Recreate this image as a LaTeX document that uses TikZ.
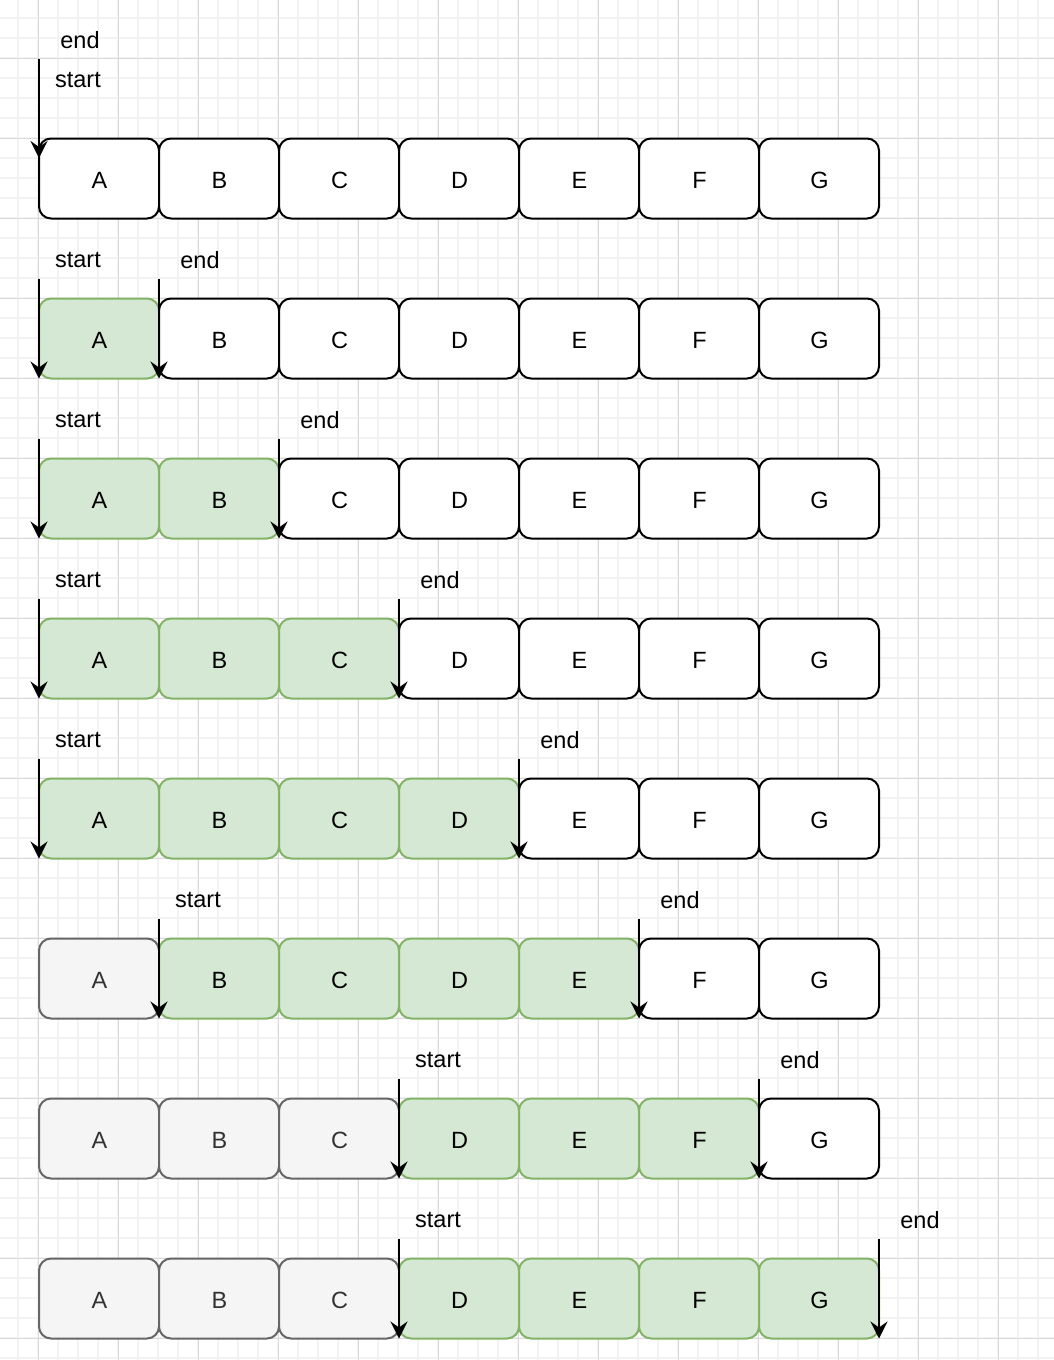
\documentclass[tikz,border=0pt]{standalone}
\usepackage{fontspec}
\setmainfont{Liberation Sans}
\usetikzlibrary{arrows.meta}
\definecolor{gfill}{HTML}{D5E8D4}
\definecolor{gdraw}{HTML}{82B366}
\definecolor{hfill}{HTML}{F5F5F5}
\definecolor{hdraw}{HTML}{666666}
\definecolor{htext}{HTML}{333333}
\definecolor{gridminor}{HTML}{F3F3F3}
\definecolor{gridmajor}{HTML}{DADADA}
\begin{document}
\begin{tikzpicture}[x=1pt,y=-1pt,
  cell/.style={draw, rounded corners=12pt, minimum width=120pt, minimum height=80pt,
    line width=2pt, inner sep=0pt, outer sep=0pt, anchor=north west,
    font=\fontsize{23.5}{28}\selectfont},
  wcell/.style={cell, draw=black, fill=white},
  gcell/.style={cell, draw=gdraw, fill=gfill},
  hcell/.style={cell, draw=hdraw, fill=hfill, text=htext},
  lbl/.style={font=\fontsize{23.5}{28}\selectfont, inner sep=0pt},
  ptr/.style={line width=2pt, -{Stealth[length=17pt,width=17pt,inset=6pt]}},
  minorline/.style={draw=gridminor, line width=1.5pt},
  majorline/.style={draw=gridmajor, line width=1pt}
]
\useasboundingbox (0,0) rectangle (1054,1360);
\fill[white] (0,0) rectangle (1054,1360);
% grid
\foreach \i in {0,...,52} {\draw[minorline] (18+20*\i,0) -- (18+20*\i,1360);}
\foreach \i in {0,...,67} {\draw[minorline] (0,18+20*\i) -- (1054,18+20*\i);}
\foreach \i in {0,...,12} {\draw[majorline] (38+80*\i,0) -- (38+80*\i,1360);}
\foreach \i in {0,...,16} {\draw[majorline] (0,58+80*\i) -- (1054,58+80*\i);}
% cells
\foreach \r/\sty in {
  0/{wcell,wcell,wcell,wcell,wcell,wcell,wcell},
  1/{gcell,wcell,wcell,wcell,wcell,wcell,wcell},
  2/{gcell,gcell,wcell,wcell,wcell,wcell,wcell},
  3/{gcell,gcell,gcell,wcell,wcell,wcell,wcell},
  4/{gcell,gcell,gcell,gcell,wcell,wcell,wcell},
  5/{hcell,gcell,gcell,gcell,gcell,wcell,wcell},
  6/{hcell,hcell,hcell,gcell,gcell,gcell,wcell},
  7/{hcell,hcell,hcell,gcell,gcell,gcell,gcell}} {
  \foreach \t [count=\c from 0] in \sty {
    \node[\t] (r\r c\c) at (39+120*\c, 138.5+160*\r)
      {\raisebox{-1.8pt}[\height][0pt]{\hspace{1pt}\ifcase\c A\or B\or C\or D\or E\or F\or G\fi}};
  }
}
% first row pointers
\coordinate (p0a) at (39,59);
\coordinate (p0b) at (39,158);
\draw[ptr] (p0a) -- (p0b);
\node[lbl] (end0) at (80,40) {end};
\node[lbl] (start0) at (78,80.5) {start};
% other rows
\foreach \r/\s/\e in {1/0/1, 2/0/2, 3/0/3, 4/0/4, 5/1/5, 6/3/6, 7/3/7} {
  \coordinate (sa\r) at (39+120*\s, 118.5+160*\r);
  \coordinate (sb\r) at (39+120*\s, 218.5+160*\r);
  \coordinate (ea\r) at (39+120*\e, 118.5+160*\r);
  \coordinate (eb\r) at (39+120*\e, 218.5+160*\r);
  \draw[ptr] (sa\r) -- (sb\r);
  \draw[ptr] (ea\r) -- (eb\r);
  \node[lbl] (start\r) at (78+120*\s, 100.5+160*\r) {start};
  \node[lbl] (end\r) at (80+120*\e, 100+160*\r) {end};
}
\end{tikzpicture}
\end{document}
